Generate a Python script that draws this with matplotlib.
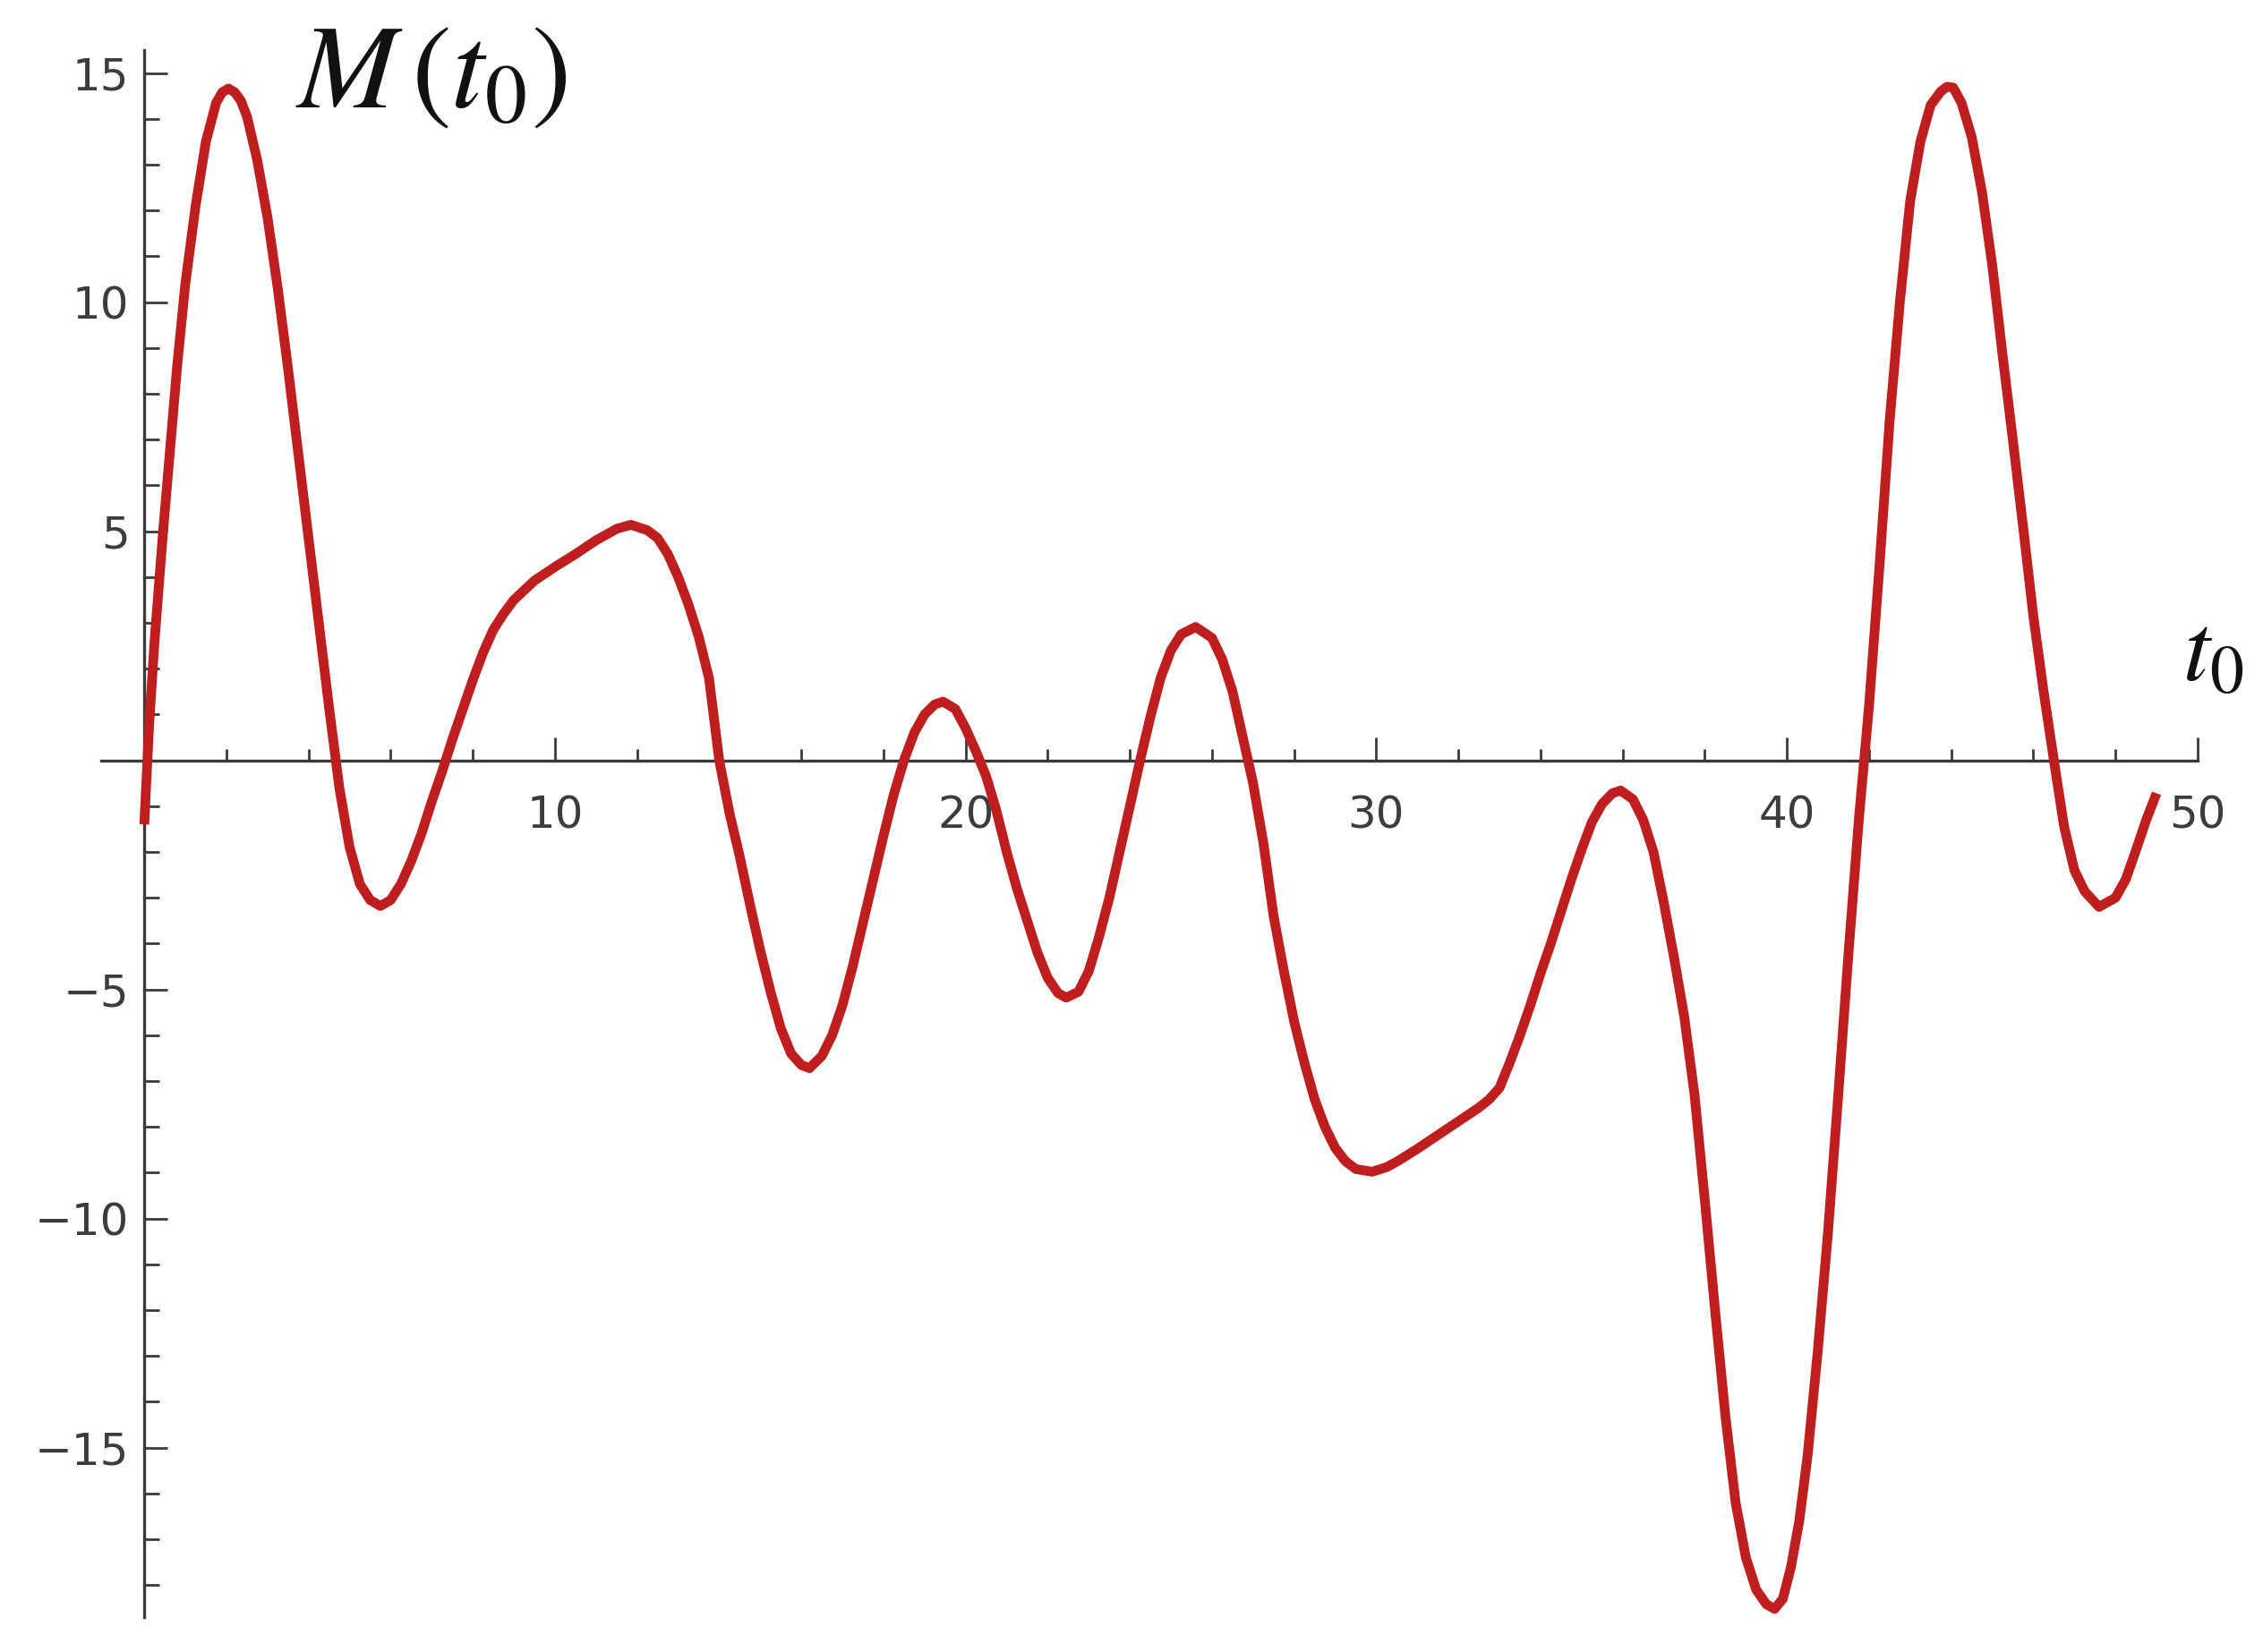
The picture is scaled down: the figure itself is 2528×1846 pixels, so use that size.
import matplotlib
matplotlib.use("Agg")
import matplotlib.pyplot as plt
from matplotlib.ticker import FixedLocator

t0 = [0.0, 0.12, 0.25, 0.45, 0.62, 0.8, 1.0, 1.25, 1.5, 1.75, 1.9, 2.05, 2.2, 2.35, 2.5, 2.75,
      3.0, 3.25, 3.5, 3.75, 4.0, 4.25, 4.5, 4.75, 5.0, 5.25, 5.5, 5.75, 6.0, 6.25,
      6.5, 6.75, 7.0, 7.25, 7.5, 7.75, 8.0, 8.25, 8.5, 8.75, 9.0, 9.5, 10.0, 10.5,
      11.0, 11.5, 11.85, 12.25, 12.5, 12.75, 13.0, 13.25, 13.5, 13.75, 14.0, 14.25,
      14.5, 14.75, 15.0, 15.25, 15.5, 15.75, 16.0, 16.2, 16.5, 16.75, 17.0, 17.25,
      17.5, 17.75, 18.0, 18.25, 18.5, 18.75, 19.0, 19.25, 19.45, 19.75, 20.0, 20.25,
      20.5, 20.75, 21.0, 21.25, 21.5, 21.75, 22.0, 22.25, 22.45, 22.75, 23.0, 23.25,
      23.5, 23.75, 24.0, 24.25, 24.5, 24.75, 25.0, 25.25, 25.6, 26.0, 26.25, 26.5,
      26.75, 27.0, 27.25, 27.5, 27.75, 28.0, 28.25, 28.5, 28.75, 29.0, 29.25, 29.5,
      29.9, 30.25, 30.5, 31.0, 31.5, 32.0, 32.5, 32.75, 33.0, 33.25, 33.5, 33.75,
      34.0, 34.25, 34.5, 34.75, 35.0, 35.25, 35.5, 35.75, 35.95, 36.25, 36.5, 36.75,
      37.0, 37.25, 37.5, 37.75, 38.0, 38.25, 38.5, 38.75, 39.0, 39.25, 39.5, 39.7,
      39.9, 40.1, 40.3, 40.5, 40.75, 41.0, 41.25, 41.5, 41.75, 42.0, 42.25, 42.5, 42.75,
      43.0, 43.25, 43.5, 43.75, 43.9, 44.05, 44.25, 44.5, 44.75, 45.0, 45.25, 45.5, 45.75,
      46.0, 46.25, 46.5, 46.75, 47.0, 47.25, 47.6, 48.0, 48.25, 48.5, 48.75, 49.0]
M = [-1.4, 0.8, 2.6, 4.9, 6.7, 8.6, 10.4, 12.1, 13.5, 14.35, 14.58, 14.66, 14.58, 14.4, 14.05, 13.1,
     11.85, 10.3, 8.55, 6.7, 4.85, 3.0, 1.15, -0.6, -1.9, -2.7, -3.05, -3.18, -3.05, -2.7,
     -2.2, -1.6, -0.9, -0.25, 0.45, 1.1, 1.75, 2.35, 2.85, 3.2, 3.5, 3.92, 4.22, 4.5,
     4.8, 5.05, 5.14, 5.02, 4.85, 4.5, 4.0, 3.4, 2.7, 1.8, 0.0, -1.15,
     -2.1, -3.15, -4.15, -5.05, -5.85, -6.4, -6.65, -6.72, -6.45, -6.0, -5.35, -4.5,
     -3.55, -2.6, -1.65, -0.75, 0.0, 0.6, 1.0, 1.22, 1.28, 1.12, 0.7, 0.2,
     -0.35, -1.1, -2.0, -2.8, -3.5, -4.2, -4.75, -5.08, -5.18, -5.05, -4.6, -3.85,
     -3.0, -2.0, -1.0, 0.0, 0.95, 1.8, 2.4, 2.75, 2.91, 2.67, 2.2, 1.5,
     0.5, -0.5, -1.8, -3.4, -4.6, -5.7, -6.6, -7.4, -8.0, -8.46, -8.75, -8.92,
     -8.98, -8.88, -8.76, -8.48, -8.18, -7.88, -7.58, -7.4, -7.15, -6.6, -6.0, -5.35,
     -4.65, -4.0, -3.3, -2.6, -1.95, -1.35, -0.95, -0.72, -0.66, -0.85, -1.3, -2.0,
     -3.1, -4.3, -5.6, -7.3, -9.6, -12.0, -14.3, -16.2, -17.4, -18.1, -18.42, -18.52,
     -18.3, -17.6, -16.6, -15.2, -12.9, -10.3, -7.3, -4.2, -1.3, 1.2, 4.2, 7.4, 10.0,
     12.2, 13.5, 14.3, 14.6, 14.7, 14.68, 14.35, 13.6, 12.4, 10.8, 8.85, 7.0, 5.1,
     3.15, 1.5, 0.0, -1.45, -2.4, -2.86, -3.2, -3.0, -2.6, -1.96, -1.3, -0.72]

x_major = [10, 20, 30, 40, 50]
x_minor = [2, 4, 6, 8, 12, 14, 16, 18, 22, 24, 26, 28, 32, 34, 36, 38, 42, 44, 46, 48]
y_major = [-15, -10, -5, 5, 10, 15]
y_minor = [v for v in range(-18, 16) if v % 5 != 0]
x_labels = ["10", "20", "30", "40", "50"]
y_labels = ["\u221215", "\u221210", "\u22125", "5", "10", "15"]

plt.rcParams['mathtext.fontset'] = 'stix'

fig = plt.figure(figsize=(25.28, 18.46), dpi=100)
ax = fig.add_axes([0.0447, 0.0211, 0.9264, 0.9486])
ax.set_xlim(-1.05, 50.0)
ax.set_ylim(-18.7, 15.5)

ax.plot(t0, M, color='#bf1e1e', lw=7.8, solid_capstyle='butt',
        solid_joinstyle='round', zorder=3)

axis_color = '#3a3a3a'
for s in ['top', 'right']:
    ax.spines[s].set_visible(False)
ax.spines['left'].set_position(('data', 0))
ax.spines['bottom'].set_position(('data', 0))
for s in ['left', 'bottom']:
    ax.spines[s].set_color(axis_color)
    ax.spines[s].set_linewidth(2.4)
    ax.spines[s].set_zorder(2)

ax.xaxis.set_major_locator(FixedLocator(x_major))
ax.xaxis.set_minor_locator(FixedLocator(x_minor))
ax.yaxis.set_major_locator(FixedLocator(y_major))
ax.yaxis.set_minor_locator(FixedLocator(y_minor))
ax.set_xticklabels(x_labels)
ax.set_yticklabels(y_labels)

ax.tick_params(axis='x', which='major', direction='in', length=19, width=2.0,
               color=axis_color, pad=27, labelsize=36, labelcolor='#3c3c3c')
ax.tick_params(axis='x', which='minor', direction='in', length=9.5, width=2.0,
               color=axis_color)
ax.tick_params(axis='y', which='major', direction='in', length=19, width=2.0,
               color=axis_color, pad=12, labelsize=36, labelcolor='#3c3c3c')
ax.tick_params(axis='y', which='minor', direction='in', length=12, width=2.0,
               color=axis_color)

fig.text(0.1305, 0.9355, r'$M\,(t_0)$', fontsize=96, color='#111111',
         ha='left', va='baseline')
fig.text(0.9644, 0.588, r'$t_0$', fontsize=78, color='#111111',
         ha='left', va='baseline')

fig.savefig('out.png', dpi=100, facecolor='white')
